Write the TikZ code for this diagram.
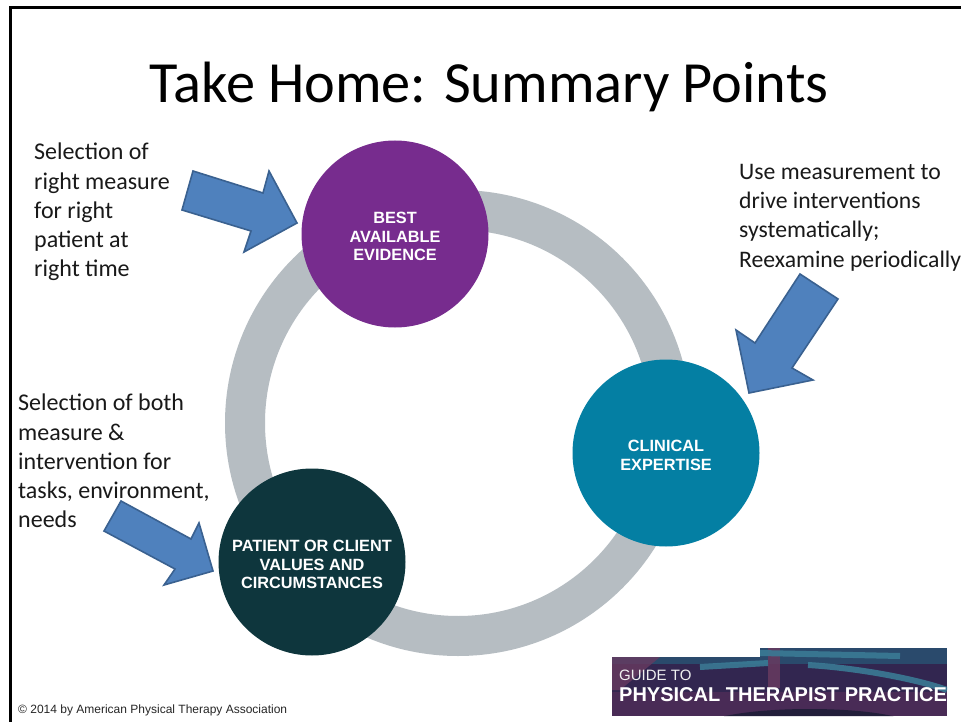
\documentclass[tikz,border=0pt]{standalone}
\usepackage{fontspec}
\setmainfont{Carlito}
\newfontfamily\arialf{Liberation Sans}
\definecolor{ringc}{HTML}{B6BDC2}
\definecolor{purplec}{HTML}{772C8E}
\definecolor{tealc}{HTML}{047FA3}
\definecolor{darkc}{HTML}{0E363D}
\definecolor{arrowf}{HTML}{4F81BD}
\definecolor{arrowd}{HTML}{3A6190}
\definecolor{bannerbg}{RGB}{50,38,80}
\definecolor{bannerlow}{RGB}{78,44,88}
\definecolor{bannermar}{RGB}{104,58,96}
\definecolor{bannerteal}{RGB}{58,122,148}
\definecolor{bannertop}{RGB}{42,74,108}
\definecolor{bannerdark}{RGB}{34,30,58}
\tikzset{
  blob/.style={circle,minimum size=187pt,inner sep=0pt},
  bloblabel/.style={inner sep=0pt,text=white,align=center,
    font=\arialf\bfseries\fontsize{16.3}{18.8}\selectfont},
  bodytext/.style={anchor=north west,align=left,inner sep=0pt,text=black!90,
    font=\fontsize{24}{29.2}\selectfont},
  fatarrow/.style={fill=arrowf,draw=arrowd,line width=1.6pt,line join=miter},
  frameline/.style={line width=3pt,black},
  bannerarc/.style={line width=6pt,opacity=.9}
}
\begin{document}
\begin{tikzpicture}[x=1pt,y=-1pt]
\useasboundingbox (0,0) rectangle (961,722);
\clip (0,0) rectangle (961,722);
\fill[white] (0,0) rectangle (961,722);
\draw[frameline] (10,724) -- (10,8) -- (963,8);
\node[anchor=base,inner sep=0pt,font=\fontsize{58.3}{60}\selectfont,text=black] (title) at (489,103) {Take Home: Summary Points};
% ring
\draw[ringc,line width=40pt] (458,423) circle (213pt);
% circles
\node[blob,fill=purplec] (evidence) at (395,234) {};
\node[blob,fill=tealc] (expertise) at (666,453) {};
\node[blob,fill=darkc] (patient) at (312,562) {};
\node[bloblabel] (evidencet) at (395,236.5) {BEST\\AVAILABLE\\EVIDENCE};
\node[bloblabel] (expertiset) at (666,455) {CLINICAL\\EXPERTISE};
\node[bloblabel] (patientt) at (312,564.5) {PATIENT OR CLIENT\\VALUES AND\\CIRCUMSTANCES};
% text
\node[bodytext] (t1) at (34,143) {Selection of\\right measure\\for right\\patient at\\right time};
\node[bodytext,font=\fontsize{23.7}{29.2}\selectfont] (t2) at (739,164) {Use measurement to\\drive interventions\\systematically;\\Reexamine periodically};
\node[bodytext] (t3) at (18,394) {Selection of both\\measure \&\\intervention for\\tasks, environment,\\needs};
% arrows
\draw[fatarrow] (193,171) -- (263,193) -- (269,171) -- (297,223) -- (244,252) -- (251,231) -- (182,210) -- cycle;
\draw[fatarrow] (800,274) -- (838,299) -- (792,368) -- (813,380) -- (749,393) -- (736,330) -- (755,343) -- cycle;
\draw[fatarrow] (121,501) -- (191,539) -- (199,523) -- (213,571) -- (164,585) -- (175,569) -- (104,531) -- cycle;
% footer
\node[anchor=base west,inner sep=0pt,font=\arialf\fontsize{12}{14}\selectfont,text=black!85] (copy) at (18,713) {© 2014 by American Physical Therapy Association};
% banner
\begin{scope}
\clip (612,657) -- (760,657) -- (760,648) -- (947,648) -- (947,716) -- (612,716) -- cycle;
\fill[bannerbg] (612,648) rectangle (947,716);
\fill[bannertop] (612,648) rectangle (947,664);
\fill[bannerlow,opacity=.85] (612,692) rectangle (947,716);
\fill[bannermar,opacity=.8] (612,657) -- (660,657) -- (620,690) -- (612,690) -- cycle;
\fill[bannermar,opacity=.85] (768,648) rectangle (780,688);
\draw[bannerarc,bannerteal] (700,667) -- (768,663);
\draw[bannerarc,bannerteal] (808,665) .. controls (860,668) and (920,680) .. (947,690);
\draw[bannerarc,bannerteal] (760,653) -- (900,656);
\fill[bannerdark] (717,718) .. controls (760,706) and (860,706) .. (900,718) -- cycle;
\end{scope}
\node[anchor=base west,inner sep=0pt,font=\arialf\fontsize{15}{15}\selectfont,text=white!88!gray] (guide1) at (619,680) {GUIDE TO};
\node[anchor=base west,inner sep=0pt,font=\arialf\bfseries\fontsize{20}{21}\selectfont,text=white] (guide2) at (619,701) {PHYSICAL THERAPIST PRACTICE};
\end{tikzpicture}
\end{document}
